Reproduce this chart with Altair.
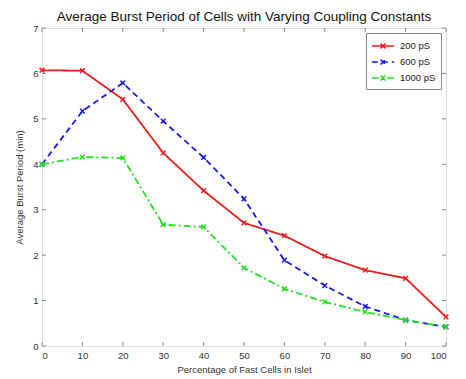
import altair as alt
import pandas as pd

pct = [0, 10, 20, 30, 40, 50, 60, 70, 80, 90, 100]
s200 = [6.07, 6.06, 5.43, 4.25, 3.42, 2.71, 2.43, 1.98, 1.67, 1.49, 0.64]
s600 = [4.00, 5.17, 5.79, 4.95, 4.15, 3.24, 1.89, 1.33, 0.87, 0.57, 0.42]
s1000 = [4.00, 4.16, 4.14, 2.67, 2.62, 1.72, 1.26, 0.97, 0.75, 0.57, 0.42]
series = ["200 pS", "600 pS", "1000 pS"]
colors = ["#ee1c1c", "#1818ee", "#22e022"]
dashes = [[1, 0], [6, 4], [7, 3, 2, 3]]
x_ticks = list(range(0, 101, 10))
y_ticks = list(range(0, 8))

rows = []
for name, vals in zip(series, [s200, s600, s1000]):
    for p, v in zip(pct, vals):
        rows.append({"pct": p, "val": v, "series": name})
df = pd.DataFrame(rows)

W, H = 404, 318
FONT = "Liberation Sans"

xs = alt.Scale(domain=[0, 100], nice=False)
ys = alt.Scale(domain=[0, 7], nice=False)
cscale = alt.Scale(domain=series, range=colors)
dscale = alt.Scale(domain=series, range=dashes)

legend = alt.Legend(
    title=None, orient="none", legendX=324, legendY=5,
    symbolType="M-1.6,0L1.6,0M-0.35,-0.35L0.35,0.35M-0.35,0.35L0.35,-0.35",
    symbolSize=196, symbolStrokeWidth=1.6, symbolOffset=4, labelOffset=9,
    rowPadding=2, padding=5, strokeColor="#888888", fillColor="white",
    labelFont=FONT, labelFontSize=9.5, labelColor="#222222",
)

xaxis = alt.Axis(values=x_ticks, ticks=False, domain=False, grid=False,
                 labelFont=FONT, labelFontSize=9.5, labelColor="#333333", labelPadding=4,
                 title="Percentage of Fast Cells in Islet", titleFont=FONT, titleFontSize=9.5,
                 titleFontWeight="normal", titleColor="#333333", titlePadding=5)
yaxis = alt.Axis(values=y_ticks, ticks=False, domain=False, grid=False,
                 labelFont=FONT, labelFontSize=9.5, labelColor="#333333", labelPadding=4,
                 title="Average Burst Period (min)", titleFont=FONT, titleFontSize=9.5,
                 titleFontWeight="normal", titleColor="#333333", titlePadding=8)

lines = alt.Chart(df).mark_line(strokeWidth=1.8).encode(
    x=alt.X("pct:Q", scale=xs, axis=xaxis),
    y=alt.Y("val:Q", scale=ys, axis=yaxis),
    color=alt.Color("series:N", scale=cscale, legend=legend),
    strokeDash=alt.StrokeDash("series:N", scale=dscale, legend=legend),
    order=alt.Order("pct:Q"),
)
points = alt.Chart(df).mark_point(
    shape="M-1,-1L1,1M-1,1L1,-1", size=22, filled=False, strokeWidth=1.5, opacity=1
).encode(
    x=alt.X("pct:Q", scale=xs),
    y=alt.Y("val:Q", scale=ys),
    color=alt.Color("series:N", scale=cscale, legend=legend),
)

xt = pd.DataFrame({"t": x_ticks})
yt = pd.DataFrame({"t": y_ticks})
tick_style = dict(color="#888888", strokeWidth=1)
xt_top = alt.Chart(xt).mark_rule(**tick_style).encode(
    x=alt.X("t:Q", scale=xs), y=alt.value(0), y2=alt.value(4))
xt_bot = alt.Chart(xt).mark_rule(**tick_style).encode(
    x=alt.X("t:Q", scale=xs), y=alt.value(H), y2=alt.value(H - 4))
yt_left = alt.Chart(yt).mark_rule(**tick_style).encode(
    y=alt.Y("t:Q", scale=ys), x=alt.value(0), x2=alt.value(4))
yt_right = alt.Chart(yt).mark_rule(**tick_style).encode(
    y=alt.Y("t:Q", scale=ys), x=alt.value(W), x2=alt.value(W - 4))

chart = alt.layer(xt_top, xt_bot, yt_left, yt_right, lines, points).properties(
    width=W, height=H,
    autosize=alt.AutoSizeParams(type="none"),
    padding={"left": 34, "top": 20, "right": 10, "bottom": 30},
    title=alt.Title("Average Burst Period of Cells with Varying Coupling Constants",
                    font=FONT, fontSize=13.5, fontWeight="normal", color="#111111",
                    anchor="middle", offset=0),
).configure_view(stroke="#888888", strokeWidth=1.2).configure(background="white")

chart.save("out.html", embed_options={"renderer": "svg", "actions": False})
